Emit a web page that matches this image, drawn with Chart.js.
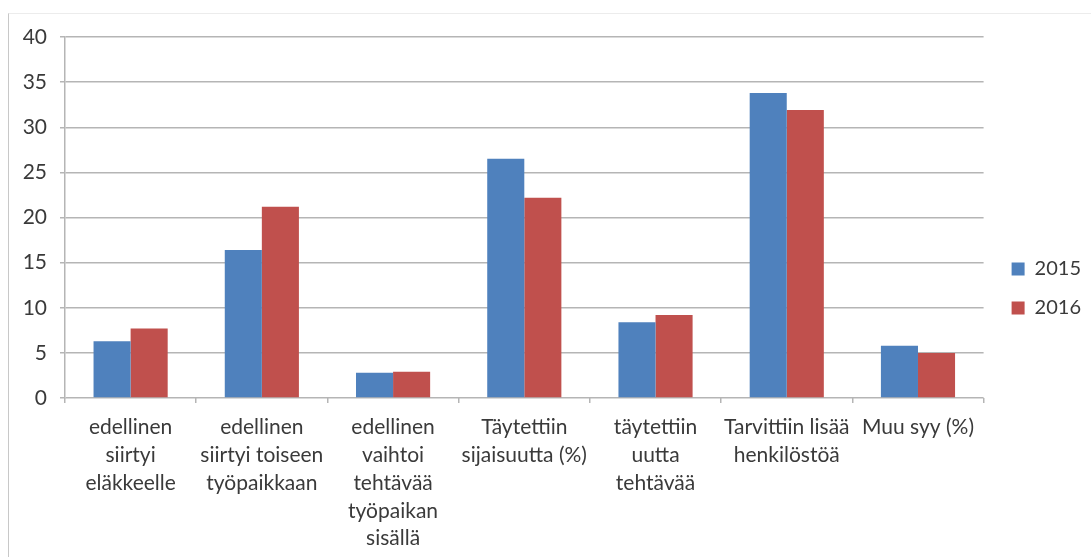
<!DOCTYPE html>
<html>
<head>
<meta charset="utf-8">
<script src="https://cdn.jsdelivr.net/npm/chart.js@4"></script>
<style>
  html, body { margin: 0; padding: 0; background: #fff; }
  #wrap { position: relative; width: 1091px; height: 557px; }
  #frame { position: absolute; left: 8px; top: 13px; right: 0; bottom: 0;
           border-left: 1px solid #c8c8c8; border-top: 1px solid #ececec; }
  canvas { position: absolute; left: 0; top: 0; }
</style>
</head>
<body>
<div id="wrap">
  <div id="frame"></div>
  <canvas id="chart" width="1091" height="557"></canvas>
</div>
<script>
const categories = [
  ["edellinen", "siirtyi", "eläkkeelle"],
  ["edellinen", "siirtyi toiseen", "työpaikkaan"],
  ["edellinen", "vaihtoi", "tehtävää", "työpaikan", "sisällä"],
  ["Täytettiin", "sijaisuutta (%)"],
  ["täytettiin", "uutta", "tehtävää"],
  ["Tarvittiin lisää", "henkilöstöä"],
  ["Muu syy (%)"]
];
const values2015 = [6.3, 16.4, 2.8, 26.5, 8.4, 33.8, 5.8];
const values2016 = [7.7, 21.2, 2.9, 22.2, 9.2, 31.9, 5.0];
const seriesLabels = ["2015", "2016"];

const textColor = "#3a3a3a";
const gridColor = "#b5b5b5";
const fontFamily = "Lato, 'Open Sans', sans-serif";

new Chart(document.getElementById("chart").getContext("2d"), {
  type: "bar",
  data: {
    labels: categories,
    datasets: [
      {
        label: seriesLabels[0],
        data: values2015,
        backgroundColor: "#4f81bd",
        categoryPercentage: 0.565,
        barPercentage: 1.0
      },
      {
        label: seriesLabels[1],
        data: values2016,
        backgroundColor: "#c0504d",
        categoryPercentage: 0.565,
        barPercentage: 1.0
      }
    ]
  },
  options: {
    responsive: false,
    animation: false,
    layout: { padding: { top: 20, bottom: 0, left: 0, right: 0 } },
    plugins: {
      tooltip: { enabled: false },
      legend: {
        position: "right",
        align: "center",
        labels: {
          color: textColor,
          font: { family: fontFamily, size: 20 },
          boxWidth: 13,
          boxHeight: 13,
          padding: 19
        }
      }
    },
    scales: {
      x: {
        grid: {
          offset: true,
          drawOnChartArea: false,
          drawTicks: true,
          tickLength: 5,
          color: gridColor,
          lineWidth: 1.5
        },
        border: { display: false },
        ticks: {
          color: textColor,
          font: { family: fontFamily, size: 21, lineHeight: 1.33 },
          maxRotation: 0,
          autoSkip: false,
          padding: 10
        },
        afterFit(scale) { scale.height = 159; }
      },
      y: {
        min: 0,
        max: 40,
        ticks: {
          stepSize: 5,
          color: textColor,
          font: { family: fontFamily, size: 21 },
          padding: 13
        },
        grid: { color: gridColor, lineWidth: 1.5, tickLength: 5 },
        border: { color: gridColor, width: 1.5 },
        afterFit(scale) { scale.width = 65; }
      },
      // empty spacers: room above the plot and between plot and legend
      topSpace: {
        position: "top",
        display: true,
        grid: { display: false, drawOnChartArea: false },
        border: { display: false },
        ticks: { display: false },
        afterFit(scale) { scale.height = 17; }
      },
      spacer: {
        position: "right",
        display: true,
        grid: { display: false, drawOnChartArea: false },
        border: { display: false },
        ticks: { display: false },
        afterFit(scale) { scale.width = 9; }
      }
    }
  }
});
</script>
</body>
</html>
